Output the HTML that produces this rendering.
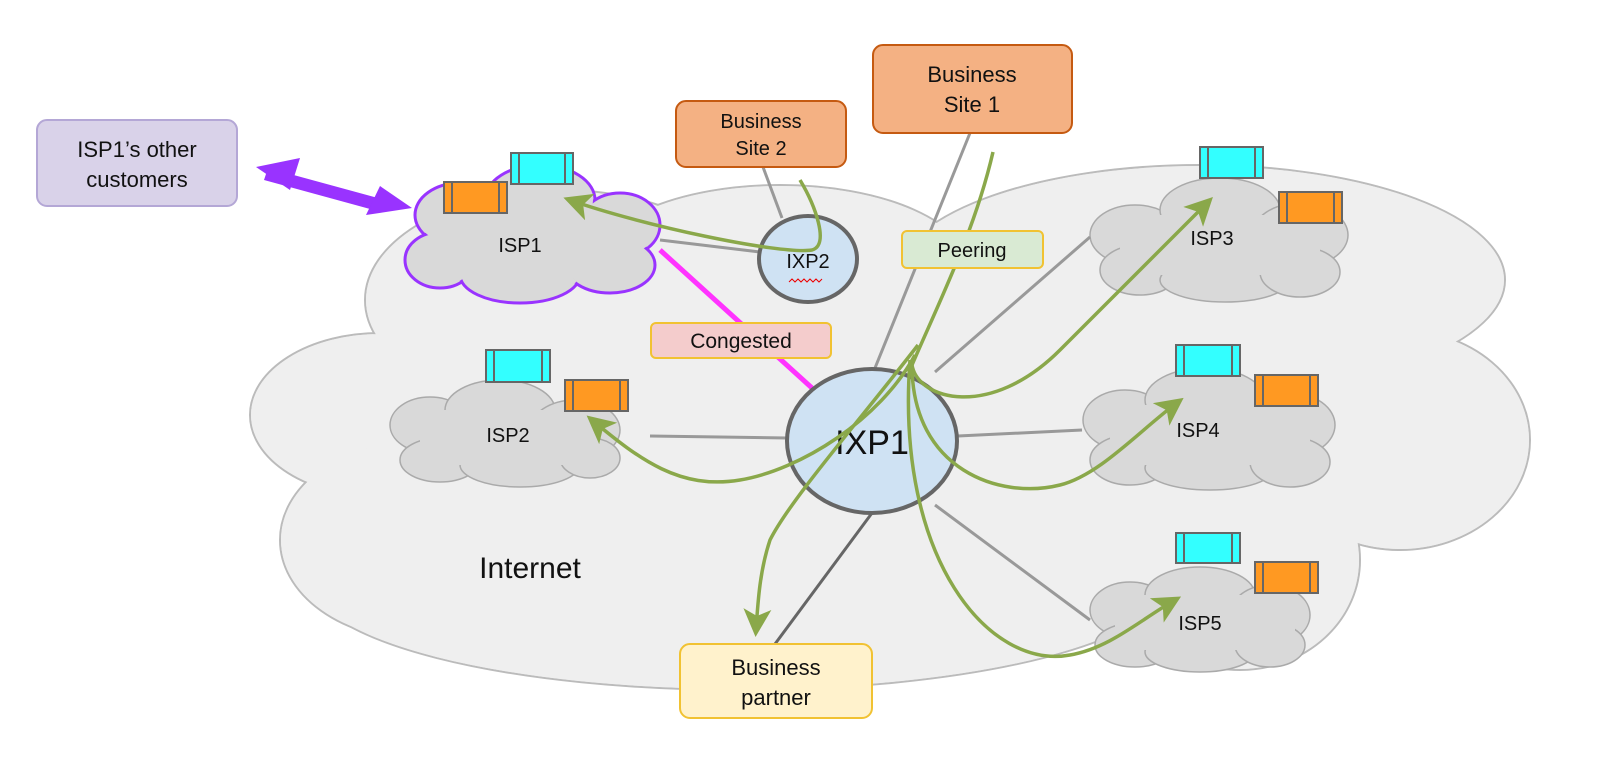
<!DOCTYPE html>
<html><head><meta charset="utf-8"><style>html,body{margin:0;padding:0;background:#fff}svg{display:block}text{font-family:"Liberation Sans","DejaVu Sans",sans-serif;fill:#111}</style></head>
<body>
<svg width="1600" height="775" viewBox="0 0 1600 775" xmlns="http://www.w3.org/2000/svg">
<defs>
<marker id="ga" markerWidth="8" markerHeight="8" refX="6" refY="4" orient="auto" markerUnits="strokeWidth"><path d="M0,0 L8,4 L0,8 L2,4 z" fill="#8aa84a"/></marker>
</defs>
<!-- Big cloud -->
<g stroke="#bbb" stroke-width="2" fill="#efefef">
<ellipse cx="380" cy="415" rx="130" ry="82"/>
<ellipse cx="560" cy="300" rx="195" ry="110"/>
<ellipse cx="780" cy="270" rx="190" ry="85"/>
<ellipse cx="1200" cy="280" rx="305" ry="115"/>
<ellipse cx="1400" cy="440" rx="130" ry="110"/>
<ellipse cx="1240" cy="560" rx="120" ry="110"/>
<ellipse cx="740" cy="580" rx="430" ry="110"/>
<ellipse cx="420" cy="540" rx="140" ry="100"/>
</g>
<g fill="#efefef">
<ellipse cx="380" cy="415" rx="129" ry="81"/>
<ellipse cx="560" cy="300" rx="194" ry="109"/>
<ellipse cx="780" cy="270" rx="189" ry="84"/>
<ellipse cx="1200" cy="280" rx="304" ry="114"/>
<ellipse cx="1400" cy="440" rx="129" ry="109"/>
<ellipse cx="1240" cy="560" rx="119" ry="109"/>
<ellipse cx="740" cy="580" rx="429" ry="109"/>
<ellipse cx="420" cy="540" rx="139" ry="99"/>
<rect x="400" y="300" width="950" height="300"/>
</g>
<text x="530" y="578" font-size="30" text-anchor="middle">Internet</text>

<!-- small clouds -->
<g id="c1">
<g stroke="#9933ff" stroke-width="3" fill="#d9d9d9">
<ellipse cx="460" cy="215" rx="45" ry="32"/><ellipse cx="540" cy="200" rx="55" ry="35"/><ellipse cx="620" cy="225" rx="40" ry="32"/>
<ellipse cx="440" cy="260" rx="35" ry="28"/><ellipse cx="520" cy="275" rx="60" ry="28"/><ellipse cx="610" cy="265" rx="45" ry="28"/></g>
<g fill="#d9d9d9"><ellipse cx="460" cy="215" rx="43" ry="30"/><ellipse cx="540" cy="200" rx="53" ry="33"/><ellipse cx="620" cy="225" rx="38" ry="30"/>
<ellipse cx="440" cy="260" rx="33" ry="26"/><ellipse cx="520" cy="275" rx="58" ry="26"/><ellipse cx="610" cy="265" rx="43" ry="26"/><rect x="440" y="210" width="190" height="60"/></g>
</g>
<g stroke="#aaa" stroke-width="1.5" fill="#d9d9d9">
<ellipse cx="430" cy="425" rx="40" ry="28"/><ellipse cx="500" cy="410" rx="55" ry="30"/><ellipse cx="575" cy="430" rx="45" ry="30"/><ellipse cx="440" cy="460" rx="40" ry="22"/><ellipse cx="520" cy="465" rx="60" ry="22"/><ellipse cx="590" cy="458" rx="30" ry="20"/>
<ellipse cx="1135" cy="235" rx="45" ry="30"/><ellipse cx="1220" cy="210" rx="60" ry="32"/><ellipse cx="1300" cy="235" rx="48" ry="32"/><ellipse cx="1140" cy="270" rx="40" ry="25"/><ellipse cx="1225" cy="280" rx="65" ry="22"/><ellipse cx="1300" cy="272" rx="40" ry="25"/>
<ellipse cx="1125" cy="420" rx="42" ry="30"/><ellipse cx="1205" cy="400" rx="60" ry="32"/><ellipse cx="1290" cy="425" rx="45" ry="32"/><ellipse cx="1130" cy="460" rx="40" ry="25"/><ellipse cx="1210" cy="468" rx="65" ry="22"/><ellipse cx="1290" cy="462" rx="40" ry="25"/>
<ellipse cx="1130" cy="610" rx="40" ry="28"/><ellipse cx="1200" cy="595" rx="55" ry="28"/><ellipse cx="1270" cy="615" rx="40" ry="30"/><ellipse cx="1135" cy="645" rx="40" ry="22"/><ellipse cx="1200" cy="652" rx="55" ry="20"/><ellipse cx="1270" cy="645" rx="35" ry="22"/>
</g>
<g fill="#d9d9d9">
<rect x="420" y="410" width="180" height="55"/><rect x="1120" y="215" width="200" height="60"/><rect x="1110" y="405" width="200" height="60"/><rect x="1115" y="595" width="180" height="55"/>
</g>
<g font-size="20" text-anchor="middle">
<text x="520" y="252">ISP1</text><text x="508" y="442">ISP2</text><text x="1212" y="245">ISP3</text><text x="1198" y="437">ISP4</text><text x="1200" y="630">ISP5</text>
</g>

<!-- gray lines -->
<g stroke="#999" stroke-width="3" fill="none">
<line x1="660" y1="240" x2="760" y2="252"/>
<line x1="763" y1="167" x2="782" y2="218"/>
<line x1="970" y1="133" x2="875" y2="368"/>
<line x1="935" y1="372" x2="1090" y2="237"/>
<line x1="650" y1="436" x2="787" y2="438"/>
<line x1="958" y1="436" x2="1082" y2="430"/>
<line x1="935" y1="505" x2="1090" y2="620"/>
</g>
<line x1="872" y1="513" x2="775" y2="644" stroke="#666" stroke-width="3"/>
<line x1="660" y1="250" x2="812" y2="388" stroke="#ff33ff" stroke-width="5"/>

<!-- IXPs -->
<ellipse cx="808" cy="259" rx="49" ry="43" fill="#cfe2f3" stroke="#666" stroke-width="4"/>
<text x="808" y="268" font-size="20" text-anchor="middle">IXP2</text>
<path d="M789,282 l3,-3 3,3 3,-3 3,3 3,-3 3,3 3,-3 3,3 3,-3 3,3 3,-3" stroke="#e00" fill="none" stroke-width="1"/>
<ellipse cx="872" cy="441" rx="85" ry="72" fill="#cfe2f3" stroke="#666" stroke-width="4"/>
<text x="872" y="454" font-size="34" text-anchor="middle">IXP1</text>

<!-- boxes -->
<g stroke="#666" stroke-width="2">
<g fill="#ff9922"><rect x="444" y="182" width="63" height="31"/><rect x="565" y="380" width="63" height="31"/><rect x="1279" y="192" width="63" height="31"/><rect x="1255" y="375" width="63" height="31"/><rect x="1255" y="562" width="63" height="31"/></g>
<g fill="#33ffff"><rect x="511" y="153" width="62" height="31"/><rect x="486" y="350" width="64" height="32"/><rect x="1200" y="147" width="63" height="31"/><rect x="1176" y="345" width="64" height="31"/><rect x="1176" y="533" width="64" height="30"/></g>
<path d="M452,182v31M499,182v31M573,380v31M620,380v31M1287,192v31M1334,192v31M1263,375v31M1310,375v31M1263,562v31M1310,562v31M519,153v31M565,153v31M494,350v32M542,350v32M1208,147v31M1255,147v31M1184,345v31M1232,345v31M1184,533v30M1232,533v30" fill="none"/>
</g>

<!-- green paths -->
<g stroke="#8aa84a" stroke-width="3.5" fill="none" marker-end="url(#ga)">
<path d="M800,180 C815,205 830,245 812,250 C780,255 640,225 570,200"/>
<path d="M993,152 C975,230 940,300 912,365 C918,400 990,420 1060,350 C1110,300 1160,250 1208,202"/>
<path d="M912,365 C912,470 1000,500 1060,485 C1100,475 1140,430 1178,402"/>
<path d="M910,360 C895,560 990,670 1070,655 C1110,648 1140,620 1175,600"/>
<path d="M915,355 C880,420 800,470 740,480 C680,490 640,460 592,420"/>
<path d="M918,345 C860,420 790,500 770,540 C760,570 758,600 756,630"/>
</g>

<!-- purple arrow -->
<g fill="#9933ff">
<polygon points="268,168 385,200 381,212 264,180"/>
<polygon points="256,167 300,158 290,190"/>
<polygon points="412,208 366,215 380,186"/>
</g>

<!-- labels -->
<g stroke-width="2">
<rect x="37" y="120" width="200" height="86" rx="10" fill="#d9d2e9" stroke="#b4a7d6"/>
<rect x="676" y="101" width="170" height="66" rx="10" fill="#f4b183" stroke="#c55a11"/>
<rect x="873" y="45" width="199" height="88" rx="10" fill="#f4b183" stroke="#c55a11"/>
<rect x="902" y="231" width="141" height="37" rx="5" fill="#d9ead3" stroke="#f1c232"/>
<rect x="651" y="323" width="180" height="35" rx="5" fill="#f4cccc" stroke="#f1c232"/>
<rect x="680" y="644" width="192" height="74" rx="10" fill="#fff2cc" stroke="#f1c232"/>
</g>
<g text-anchor="middle">
<text x="137" y="157" font-size="22">ISP1’s other</text><text x="137" y="187" font-size="22">customers</text>
<text x="761" y="128" font-size="20">Business</text><text x="761" y="155" font-size="20">Site 2</text>
<text x="972" y="82" font-size="22">Business</text><text x="972" y="112" font-size="22">Site 1</text>
<text x="972" y="257" font-size="20">Peering</text>
<text x="741" y="348" font-size="21">Congested</text>
<text x="776" y="675" font-size="22">Business</text><text x="776" y="705" font-size="22">partner</text>
</g>
</svg>
</body></html>
